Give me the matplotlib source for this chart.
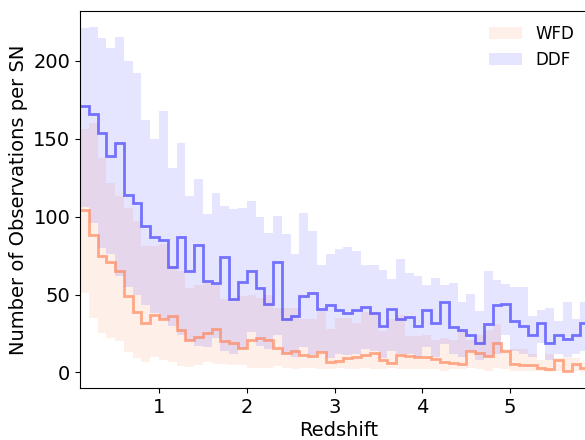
import numpy as np
import matplotlib
matplotlib.use('Agg')
import matplotlib.pyplot as plt

# redshift bins of width 0.1 starting at z = 0.1
z_lo = 0.1
dz = 0.1
n_bins = 58

# DDF: median and spread of number of observations per SN
ddf_med = [171, 166, 154, 139, 147, 114, 108.5, 94, 87, 85,
           67.5, 87, 65, 82, 58.5, 57.5, 74, 47, 58, 65,
           54, 44, 71, 34.5, 36, 49, 51, 41, 43, 40,
           38, 40, 42, 38, 30, 41, 34.5, 35.5, 30, 40,
           32, 45, 29, 27, 24, 19, 31, 43.5, 44, 33,
           30, 24, 31.5, 19, 24, 21.5, 24, 31.5]
ddf_hi = [221, 222, 214.5, 208, 215, 200, 192, 162, 150, 167.5,
          131.5, 147.5, 113.5, 124, 102, 115, 106.6, 105, 105.5, 110,
          100, 89.5, 100.6, 89, 76, 102.5, 91, 69, 76, 79.3,
          80.5, 77.8, 69, 68.8, 65.5, 60.2, 73, 63.5, 62, 55.8,
          60.7, 56.4, 57.7, 45, 50.4, 39.3, 65, 59.6, 57, 55,
          55, 36, 40, 41.4, 33, 45, 34, 45.3]
ddf_lo = [106, 96, 80, 76, 62, 55, 50, 43, 38, 34,
          30, 24, 20, 17, 16, 22, 14, 12, 15, 26,
          17, 15, 24, 12, 10, 16, 11, 13, 9, 12,
          11, 12, 15, 14, 9, 14, 12, 12, 10, 16,
          10, 18, 12, 10, 14, 8, 10, 12, 24, 14,
          12, 10, 19, 8, 12, 10, 12, 14]

# WFD: median and spread
wfd_med = [104, 88, 75, 70.7, 65, 49, 39, 32, 37, 34,
           36, 27, 21, 23, 25, 28, 20, 18.6, 15.6, 20.5,
           21.8, 20.7, 15.8, 12.6, 13.7, 11.5, 10.5, 13, 6.7, 7.5,
           9, 9.8, 11, 12.6, 7.9, 6.2, 11.5, 10.5, 10, 9.8,
           8.8, 6.6, 6.2, 5.1, 13.7, 12.2, 10.5, 18.6, 13.8, 5.6,
           5, 4.6, 3, 2, 7.7, 0.8, 5.5, 2.6]
wfd_hi = [156, 160, 137.6, 121.6, 113, 105.6, 97, 81, 81, 82.7,
          68, 65, 54, 56, 57.7, 56, 47, 47, 49, 50,
          48, 50, 41.6, 41.6, 41.6, 34, 34, 39.5, 27.6, 35,
          35, 32, 39, 39, 26.5, 34, 37, 23.5, 23.5, 24,
          21, 22, 21, 26.5, 21, 24, 27, 31, 15, 15,
          15, 12, 8, 12, 9, 10, 9, 7]
wfd_lo = [51, 35, 25.6, 22, 20, 12.8, 9, 6.6, 10, 8,
          6.5, 4, 3.2, 5, 6.4, 5.5, 5.5, 4.5, 4.5, 3,
          3, 3, 4, 3, 2, 3, 3, 2, 2, 3,
          2, 2, 3, 2, 2, 3, 2, 2, 2, 2,
          2, 1, 2, 2, 3, 2, 1, 3, 2, 1,
          1, 1, 1, 0, 1, 0, 1, 0]

edges = z_lo + dz * np.arange(n_bins + 1)

fig = plt.figure(figsize=(5.85, 4.4), dpi=100)
ax = fig.add_axes([80 / 585, 52 / 440, 518 / 585, 377 / 440])

wfd_fill = ax.stairs(wfd_hi, edges, baseline=wfd_lo, fill=True,
                     color='coral', alpha=0.12, lw=0, label='WFD')
ddf_fill = ax.stairs(ddf_hi, edges, baseline=ddf_lo, fill=True,
                     color='blue', alpha=0.1, lw=0, label='DDF')
ax.stairs(wfd_med, edges, baseline=None, color='coral', alpha=0.65, lw=2)
ax.stairs(ddf_med, edges, baseline=None, color='blue', alpha=0.5, lw=2)

ax.set_xlim(0.1, 6.0)
ax.set_ylim(-10, 232)
ax.set_xticks([1, 2, 3, 4, 5])
ax.set_yticks([0, 50, 100, 150, 200])
ax.tick_params(labelsize=14)
ax.set_xlabel('Redshift', fontsize=14, labelpad=3)
ax.set_ylabel('Number of Observations per SN', fontsize=14)

ax.legend(handles=[wfd_fill, ddf_fill], labels=['WFD', 'DDF'],
          frameon=False, fontsize=12, loc='upper right',
          bbox_to_anchor=(1.007, 0.978), bbox_transform=fig.transFigure)

fig.savefig('out.png', dpi=100)
